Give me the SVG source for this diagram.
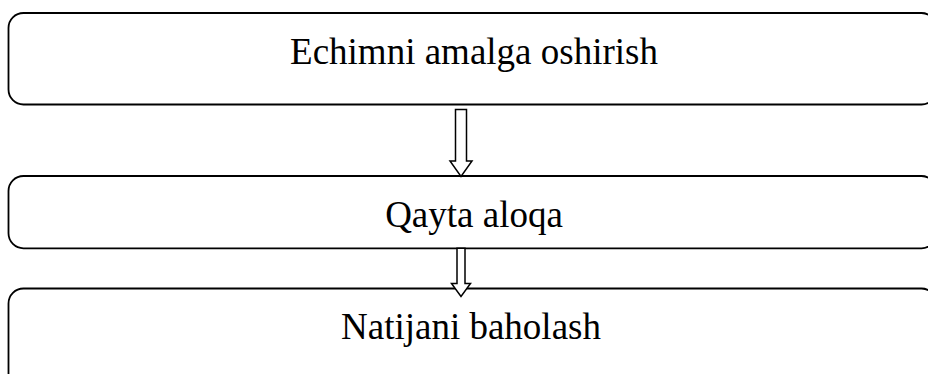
<svg xmlns="http://www.w3.org/2000/svg" width="928" height="374" viewBox="0 0 928 374">
  <style>
    .box { fill: #ffffff; stroke: #000000; stroke-width: 1.8; }
    .label { font-family: "Liberation Serif", "Times New Roman", serif; font-size: 37px; fill: #000000; text-anchor: middle; }
    .arrow { fill: #ffffff; stroke: #000000; stroke-width: 1.5; stroke-linejoin: miter; }
  </style>
  <rect width="928" height="374" fill="#ffffff"/>

  <g id="node-echimni">
    <rect class="box" x="8.5" y="13" width="928" height="91.5" rx="15" ry="15"/>
    <text class="label" x="474" y="63.5">Echimni amalga oshirish</text>
  </g>

  <g id="node-qayta-aloqa">
    <rect class="box" x="8.5" y="176" width="928" height="72.3" rx="15" ry="15"/>
    <text class="label" x="474" y="226.5">Qayta aloqa</text>
  </g>

  <g id="node-natijani">
    <rect class="box" x="8.5" y="288.5" width="928" height="100" rx="15" ry="15"/>
    <text class="label" x="471" y="338.5">Natijani baholash</text>
  </g>

  <g id="connectors">
    <path class="arrow" d="M455.5 109.5 H466.5 V161 H472 L461 176.5 L450 161 H455.5 Z"/>
    <path class="arrow" d="M457 248.3 H465 V283.5 H470.5 L461 296.5 L451.5 283.5 H457 Z"/>
  </g>
</svg>
